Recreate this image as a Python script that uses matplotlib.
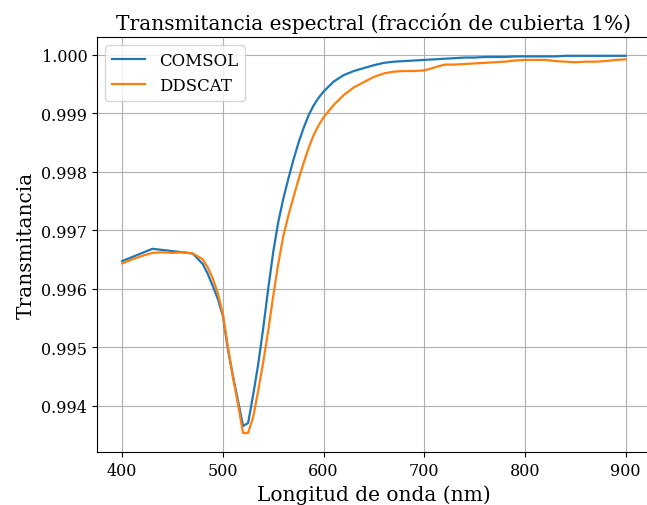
import matplotlib

matplotlib.use("Agg")

import matplotlib.pyplot as plt
from matplotlib.ticker import ScalarFormatter

wavelength_nm = [
    400, 410, 420, 430, 440, 450, 460, 470, 480, 485, 490, 495, 500, 505,
    510, 515, 520, 525, 530, 535, 540, 545, 550, 555, 560, 565, 570, 575,
    580, 585, 590, 595, 600, 610, 620, 630, 640, 650, 660, 670, 680, 690,
    700, 710, 720, 730, 740, 750, 760, 770, 780, 790, 800, 810, 820, 830,
    840, 850, 860, 870, 880, 890, 900,
]

comsol = [
    0.99647, 0.99654, 0.99661, 0.99668, 0.99666, 0.99664, 0.99662, 0.99660,
    0.99642, 0.99625, 0.99604, 0.99582, 0.99553, 0.99495, 0.99450, 0.99408,
    0.99365, 0.99370, 0.99418, 0.99470, 0.99532, 0.99600, 0.99663, 0.99714,
    0.99754, 0.99788, 0.99820, 0.99849, 0.99874, 0.99896, 0.99913, 0.99926,
    0.99937, 0.99954, 0.99965, 0.99972, 0.99977, 0.99982, 0.99986, 0.99988,
    0.99989, 0.99990, 0.99991, 0.99992, 0.99993, 0.99994, 0.99995, 0.99995,
    0.99996, 0.99996, 0.99996, 0.99997, 0.99997, 0.99997, 0.99997, 0.99997,
    0.99998, 0.99998, 0.99998, 0.99998, 0.99998, 0.99998, 0.99998,
]

ddscat = [
    0.99643, 0.99650, 0.99656, 0.99661, 0.99662, 0.99661, 0.99662, 0.99660,
    0.99650, 0.99636, 0.99617, 0.99592, 0.99556, 0.99500, 0.99448, 0.99402,
    0.99353, 0.99353, 0.99380, 0.99425, 0.99474, 0.99528, 0.99588, 0.99643,
    0.99690, 0.99725, 0.99756, 0.99786, 0.99814, 0.99840, 0.99862, 0.99879,
    0.99893, 0.99914, 0.99931, 0.99944, 0.99953, 0.99962, 0.99968, 0.99971,
    0.99972, 0.99972, 0.99973, 0.99978, 0.99983, 0.99983, 0.99984, 0.99985,
    0.99986, 0.99987, 0.99988, 0.99990, 0.99991, 0.99991, 0.99991, 0.99989,
    0.99988, 0.99987, 0.99988, 0.99988, 0.99989, 0.99991, 0.99992,
]

plt.rcParams["font.family"] = "DejaVu Serif"

fig, ax = plt.subplots(figsize=(6.47, 5.06), dpi=100)
# the reference is cropped on the right, so the axes run a little past the edge
fig.subplots_adjust(left=0.150, right=1.006, top=0.925, bottom=0.105)

ax.plot(wavelength_nm, comsol, color="#1f77b4", linewidth=1.6, label="COMSOL")
ax.plot(wavelength_nm, ddscat, color="#ff7f0e", linewidth=1.6, label="DDSCAT")

ax.set_title("Transmitancia espectral (fracción de cubierta 1%)", fontsize=14.5)
ax.set_xlabel("Longitud de onda (nm)", fontsize=14.5)
ax.set_ylabel("Transmitancia", fontsize=14.5)
ax.tick_params(labelsize=11.5)

fmt = ScalarFormatter(useOffset=False)
ax.yaxis.set_major_formatter(fmt)
ax.grid(True, color="#b0b0b0", linewidth=0.8)
ax.legend(loc="upper left", fontsize=12)

fig.savefig("out.png", dpi=100, facecolor="white")
